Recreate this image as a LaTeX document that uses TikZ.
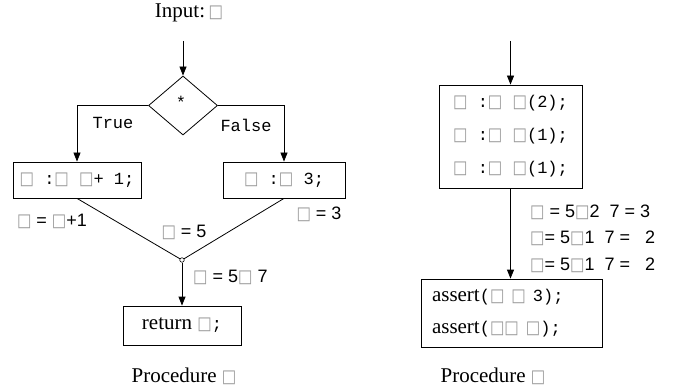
\documentclass[tikz,border=0pt]{standalone}
\usepackage{fontspec}
\usepackage{graphicx}
\setmainfont{Liberation Serif}
\newfontfamily\monof{Liberation Mono}
\newfontfamily\sansf{Liberation Sans}
\newfontfamily\dvs{DejaVu Sans}
\usetikzlibrary{arrows.meta,shapes.geometric}
\newcommand{\bx}{{\dvs\fontsize{18}{18}\selectfont\color{black!40}\scalebox{0.85}[1]{□}}}
\newcommand{\ms}{\monof\fontsize{17}{17}\selectfont}
\begin{document}
\begin{tikzpicture}[x=1pt,y=-1pt,
  ser/.style={font=\fontsize{21}{21}\selectfont, inner sep=0pt},
  mon/.style={font=\ms, inner sep=0pt},
  san/.style={font=\sansf\fontsize{18}{18}\selectfont, inner sep=0pt},
  blk/.style={draw, line width=0.8pt, inner sep=0pt},
  arr/.style={line width=0.8pt, -{Triangle[length=9pt,width=7pt]}},
  ln/.style={line width=0.8pt}]
\useasboundingbox (0,0) rectangle (676,390);
% left procedure
\node[ser] (inp) at (189,13) {Input:\,\bx};
\coordinate (in1) at (183,41);
\node[blk, diamond, minimum width=69pt, minimum height=59pt] (dia) at (183,105.5) {};
\node[mon] (star) at (181,102) {*};
\node[blk, minimum width=128pt, minimum height=36pt, font=\ms] (lbox) at (77,180) {\bx{} :\bx{} \bx+ 1;};
\node[blk, minimum width=122pt, minimum height=36pt, font=\ms] (rbox) at (284,180) {\bx{} :\bx{} 3;};
\node[mon] (tru) at (113,123) {True};
\node[mon] (fal) at (246,125) {False};
\node[draw, circle, line width=0.6pt, fill=white, minimum size=4.5pt, inner sep=0pt] (m) at (182,260) {};
\node[blk, minimum width=118pt, minimum height=39pt, font=\fontsize{21}{21}\selectfont] (ret) at (182,325.5) {return~\bx{\ms;}};
\node[san] (l1) at (52,221) {\bx{} = \bx+1};
\node[san] (l2) at (184,232) {\bx{} = 5};
\node[san] (l3) at (319,214) {\bx{} = 3};
\node[san, anchor=west] (l4) at (193,277) {\bx{} = 5\bx{} 7};
\node[ser] (p1) at (184,376) {Procedure~\bx};
\draw[arr] (in1) -- (dia.north);
\draw[arr] (dia.west) -| (lbox.north);
\draw[arr] (dia.east) -| (rbox.north);
\draw[ln] (lbox.south) -- (m);
\draw[ln] (rbox.south) -- (m);
\draw[arr] (m) -- (ret.north);
% right procedure
\coordinate (in2) at (510.5,41);
\node[blk, minimum width=143pt, minimum height=103pt, align=left, font=\monof\fontsize{17}{33}\selectfont] (b2) at (510.5,136.5)
  {\bx{} :\bx{} \bx(2);\\ \bx{} :\bx{} \bx(1);\\ \bx{} :\bx{} \bx(1);};
\node[blk, minimum width=181pt, minimum height=68pt, inner xsep=11pt, text width=159pt, align=left, font=\fontsize{21}{32}\selectfont] (ab) at (511.5,313)
  {assert{\ms(\bx{} \bx{} 3);}\\ assert{\ms(\bx\bx{} \bx);}};
\node[san, anchor=west] (r1) at (530,212) {\bx{} = 5\bx2 \ 7 = 3};
\node[san, anchor=west] (r2) at (530,238) {\bx= 5\bx1 \ 7 = \ \ 2};
\node[san, anchor=west] (r3) at (530,265) {\bx= 5\bx1 \ 7 = \ \ 2};
\node[ser] (p2) at (493,376) {Procedure~\bx};
\draw[arr] (in2) -- (b2.north);
\draw[arr] (b2.south) -- (b2.south |- ab.north);
\end{tikzpicture}
\end{document}
